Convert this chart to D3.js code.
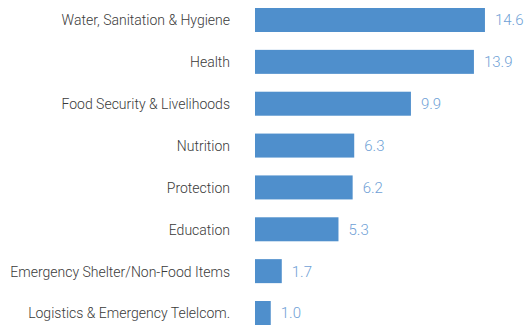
<!DOCTYPE html>
<html>
<head>
<meta charset="utf-8">
<script src="https://cdn.jsdelivr.net/npm/d3@7"></script>
<style>
  html, body { margin: 0; padding: 0; background: #fff; }
  svg { display: block; font-family: Roboto, sans-serif; }
</style>
</head>
<body>
<svg id="chart" width="526" height="325"></svg>
<script>
// Funding requirement by sector
const sectors = [
  "Water, Sanitation & Hygiene",
  "Health",
  "Food Security & Livelihoods",
  "Nutrition",
  "Protection",
  "Education",
  "Emergency Shelter/Non-Food Items",
  "Logistics & Emergency Telelcom."
];
const amounts = [14.6, 13.9, 9.9, 6.3, 6.2, 5.3, 1.7, 1.0];

const svg = d3.select("#chart");
const left = 255;

const x = d3.scaleLinear().domain([0, 1]).range([left, left + 15.75]);
const y = d3.scaleBand().domain(sectors).range([8, 325]).paddingInner(0.4267).paddingOuter(0);

const rows = svg.selectAll("g.row")
  .data(sectors.map((s, i) => ({ s, v: amounts[i] })))
  .join("g")
  .attr("class", "row");

rows.append("rect")
  .attr("x", x(0))
  .attr("y", d => y(d.s))
  .attr("width", d => x(d.v) - x(0))
  .attr("height", y.bandwidth())
  .attr("fill", "#4f8fcc");

rows.append("text")
  .attr("x", 230)
  .attr("y", d => y(d.s) + y.bandwidth() / 2 + 5.4)
  .attr("text-anchor", "end")
  .attr("font-size", 14)
  .attr("font-weight", 300)
  .attr("fill", "#3a3a3a")
  .text(d => d.s);

rows.append("text")
  .attr("x", d => x(d.v) + 10)
  .attr("y", d => y(d.s) + y.bandwidth() / 2 + 5.4)
  .attr("font-size", 15)
  .attr("font-weight", 300)
  .attr("fill", "#6f9fd6")
  .text(d => d3.format(".1f")(d.v));
</script>
</body>
</html>
